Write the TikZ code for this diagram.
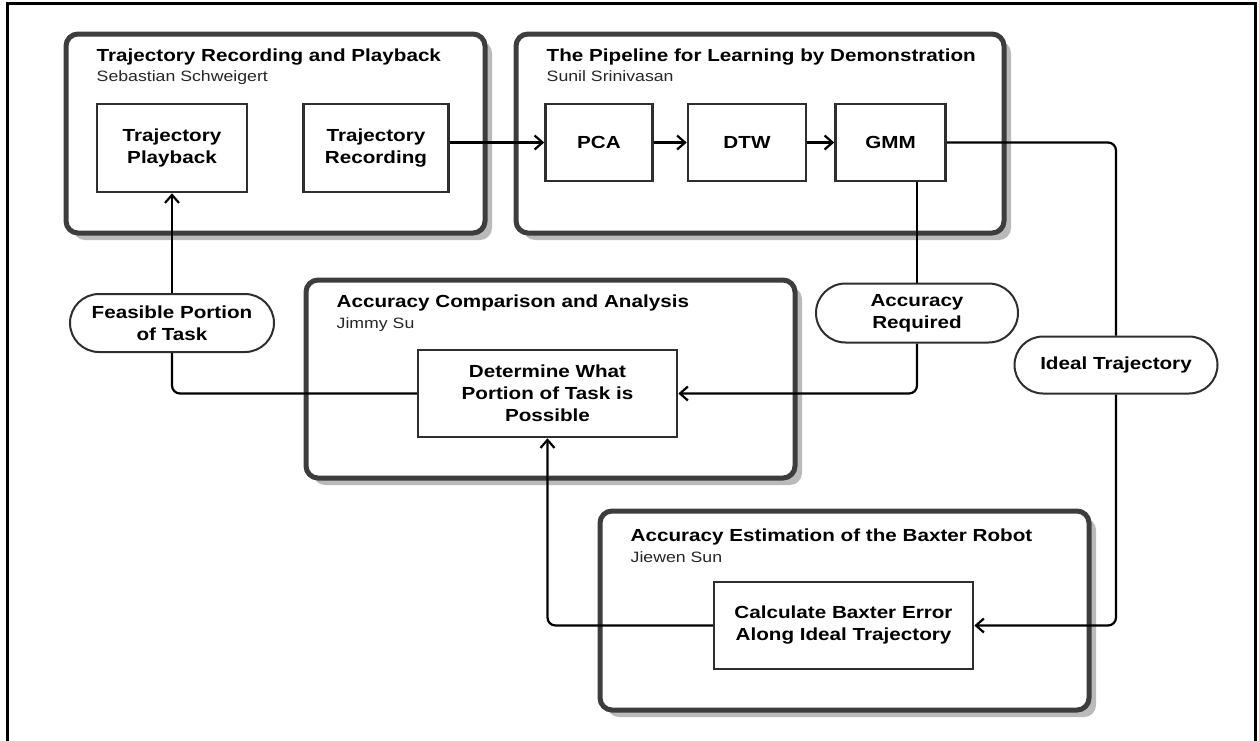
\documentclass[tikz,border=0pt]{standalone}
\usepackage{fontspec}
\setmainfont{Liberation Sans}[FakeStretch=1.18]
\usetikzlibrary{arrows.meta,positioning,shapes.misc,shadows}

\begin{document}
\begin{tikzpicture}[x=1pt,y=-1pt,>={Straight Barb[length=8pt,width=14pt]},
                    group/.style={draw=black!76,line width=5pt,rounded corners=12pt,fill=white,
                      drop shadow={shadow xshift=7pt,shadow yshift=-7pt,fill=black!27,opacity=1}},
                    block/.style={rectangle,draw=black!82,line width=2.5pt,fill=white,align=center,
                      inner sep=2pt,font=\fontsize{17.5}{22}\selectfont\bfseries},
                    pill/.style={rounded rectangle,draw=black!82,line width=2pt,fill=white,align=center,
                      inner sep=2pt,font=\fontsize{17.5}{22}\selectfont\bfseries},
                    title/.style={anchor=base west,inner sep=0pt,font=\fontsize{17.5}{22}\selectfont\bfseries},
                    owner/.style={anchor=base west,inner sep=0pt,text=black!85,font=\fontsize{15}{18}\selectfont},
                    link/.style={line width=2.2pt,rounded corners=8pt}]

  \clip (0,0) rectangle (1259,740);
  \draw[line width=3pt] (7,3) rectangle (1255,760);

  % project groups
  \node[group,minimum width=419pt,minimum height=199pt] (rec group) at (275.5,133.5) {};
  \node[group,minimum width=488pt,minimum height=199pt] (lbd group) at (760,133.5) {};
  \node[group,minimum width=489pt,minimum height=198pt] (cmp group) at (550.5,379) {};
  \node[group,minimum width=489pt,minimum height=199pt] (est group) at (844.5,610.5) {};

  \node[title] (rec title) at ([xshift=33pt,yshift=-30pt]rec group.north west) {Trajectory Recording and Playback};
  \node[owner] (rec owner) at ([yshift=-20pt]rec title.base west) {Sebastian Schweigert};
  \node[title] (lbd title) at ([xshift=33pt,yshift=-30pt]lbd group.north west) {The Pipeline for Learning by Demonstration};
  \node[owner] (lbd owner) at ([yshift=-20pt]lbd title.base west) {Sunil Srinivasan};
  \node[title] (cmp title) at ([xshift=33pt,yshift=-30pt]cmp group.north west) {Accuracy Comparison and Analysis};
  \node[owner] (cmp owner) at ([yshift=-21pt]cmp title.base west) {Jimmy Su};
  \node[title] (est title) at ([xshift=33pt,yshift=-33pt]est group.north west) {Accuracy Estimation of the Baxter Robot};
  \node[owner] (est owner) at ([yshift=-21pt]est title.base west) {Jiewen Sun};

  % steps
  \node[block,minimum width=150pt,minimum height=88pt] (play) at (172,148) {Trajectory\\Playback};
  \node[block,minimum width=145pt,minimum height=88pt] (rec) at (376,148) {Trajectory\\Recording};
  \node[block,minimum width=107pt,minimum height=77pt] (pca) at (599,142.5) {PCA};
  \node[block,minimum width=118pt,minimum height=77pt] (dtw) [right=33pt of pca] {DTW};
  \node[block,minimum width=110pt,minimum height=77pt] (gmm) [right=27pt of dtw] {GMM};
  \node[block,minimum width=259pt,minimum height=87pt] (det) at (547.5,393.5) {Determine What\\Portion of Task is\\Possible};
  \node[block,minimum width=259pt,minimum height=87pt] (calc) at (843.5,625.5) {Calculate Baxter Error\\Along Ideal Trajectory};

  % data passed between groups
  \node[pill,minimum width=208pt,minimum height=58pt] (feas) at (172,323) {Feasible Portion\\of Task};
  \node[pill,minimum width=206pt,minimum height=59pt] (acc) at (917,313) {Accuracy\\Required};
  \node[pill,minimum width=207pt,minimum height=57pt] (ideal) at (1116,365) {Ideal Trajectory};

  \draw[link,->] (pca.west -| rec.east) -- (pca.west);
  \draw[link,->] (pca) -- (dtw);
  \draw[link,->] (dtw) -- (gmm);
  \draw[link] (gmm.east) -| (ideal.north);
  \draw[link,->] (ideal.south) |- (calc.east);
  \draw[link] (acc.north |- gmm.south) -- (acc.north);
  \draw[link,->] (acc.south) |- (det.east);
  \draw[link] (det.west) -| (feas.south);
  \draw[link,->] (feas.north) -- (play.south);
  \draw[link,->] (calc.west) -| (det.south);
\end{tikzpicture}
\end{document}
